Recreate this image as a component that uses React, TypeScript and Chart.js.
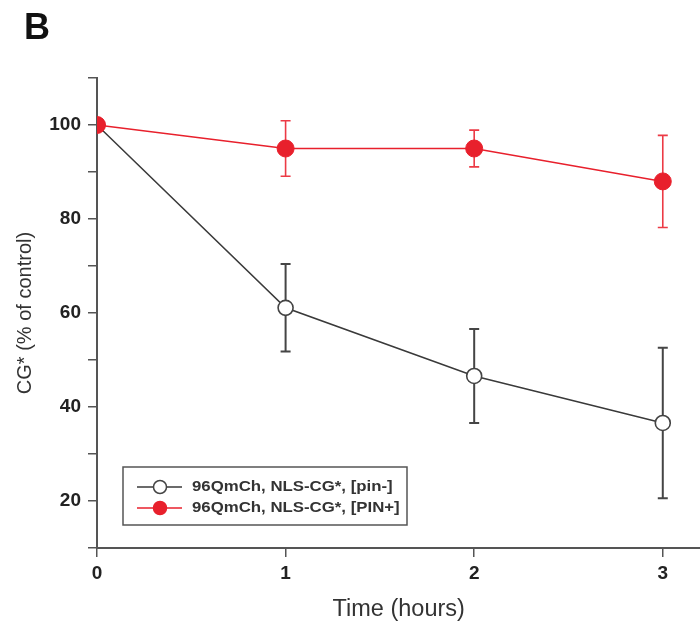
import React, { useEffect, useRef } from "react";
import { Chart, registerables } from "chart.js";

Chart.register(...registerables);

const panelLabel = "B";
const timeHours = [0, 1, 2, 3];
const pinMinusMean = [100, 61.1, 46.6, 36.6];
const pinMinusErr = [0, 9.3, 10.0, 16.0];
const pinPlusMean = [100, 95.0, 95.0, 88.0];
const pinPlusErr = [0, 5.9, 3.9, 9.8];
const seriesLabels = ["96QmCh, NLS-CG*, [pin-]", "96QmCh, NLS-CG*, [PIN+]"];
const xTitle = "Time (hours)";
const yTitle = "CG* (% of control)";
const xTickValues = [0, 1, 2, 3];
const yTickValues = [10, 20, 30, 40, 50, 60, 70, 80, 90, 100, 110];
const yTickLabels = [20, 40, 60, 80, 100];

const FONT = '"Liberation Sans", Arial, sans-serif';
const BLACK = "#3a3a3a";
const RED = "#e8202c";

const errorBarPlugin = {
  id: "errorBars",
  beforeDatasetsDraw(chart: any) {
    const ctx = chart.ctx;
    const xs = chart.scales.x;
    const ys = chart.scales.y;
    const sets = [
      { mean: pinPlusMean, err: pinPlusErr, color: "#ec3a45", w: 1.6 },
      { mean: pinMinusMean, err: pinMinusErr, color: "#454545", w: 2 },
    ];
    ctx.save();
    for (const s of sets) {
      ctx.strokeStyle = s.color;
      ctx.lineWidth = s.w;
      timeHours.forEach((t, i) => {
        if (!s.err[i]) return;
        const x = xs.getPixelForValue(t);
        const yTop = ys.getPixelForValue(s.mean[i] + s.err[i]);
        const yBot = ys.getPixelForValue(s.mean[i] - s.err[i]);
        ctx.beginPath();
        ctx.moveTo(x, yTop);
        ctx.lineTo(x, yBot);
        ctx.moveTo(x - 5, yTop);
        ctx.lineTo(x + 5, yTop);
        ctx.moveTo(x - 5, yBot);
        ctx.lineTo(x + 5, yBot);
        ctx.stroke();
      });
    }
    ctx.restore();
  },
};

const overlayPlugin = {
  id: "overlay",
  afterDraw(chart: any) {
    const ctx = chart.ctx;
    ctx.save();
    // panel label
    ctx.fillStyle = "#111";
    ctx.font = `bold 36px ${FONT}`;
    ctx.textAlign = "left";
    ctx.textBaseline = "alphabetic";
    ctx.fillText(panelLabel, 24, 39);

    // legend box
    const bx = 123, by = 467, bw = 284, bh = 58;
    ctx.fillStyle = "#fff";
    ctx.fillRect(bx, by, bw, bh);
    ctx.strokeStyle = "#555";
    ctx.lineWidth = 1.5;
    ctx.strokeRect(bx, by, bw, bh);

    const rows = [
      { label: seriesLabels[0], line: BLACK, fill: "#fff", stroke: "#444", y: 487 },
      { label: seriesLabels[1], line: RED, fill: RED, stroke: RED, y: 508 },
    ];
    for (const r of rows) {
      ctx.strokeStyle = r.line;
      ctx.lineWidth = 1.5;
      ctx.beginPath();
      ctx.moveTo(137, r.y);
      ctx.lineTo(182, r.y);
      ctx.stroke();
      ctx.beginPath();
      ctx.arc(160, r.y, 6.5, 0, Math.PI * 2);
      ctx.fillStyle = r.fill;
      ctx.fill();
      ctx.strokeStyle = r.stroke;
      ctx.lineWidth = 1.5;
      ctx.stroke();
      ctx.save();
      ctx.translate(192, r.y);
      ctx.scale(1.2, 1);
      ctx.fillStyle = "#333";
      ctx.font = `bold 14px ${FONT}`;
      ctx.textBaseline = "middle";
      ctx.textAlign = "left";
      ctx.fillText(r.label, 0, 0);
      ctx.restore();
    }
    ctx.restore();
  },
};

export default function App() {
  const ref = useRef<HTMLCanvasElement | null>(null);

  useEffect(() => {
    if (!ref.current) return;
    const chart = new Chart(ref.current, {
      type: "line",
      data: {
        datasets: [
          {
            label: seriesLabels[1],
            data: timeHours.map((t, i) => ({ x: t, y: pinPlusMean[i] })),
            borderColor: RED,
            backgroundColor: RED,
            borderWidth: 1.5,
            pointRadius: 8.5,
            pointBackgroundColor: RED,
            pointBorderColor: RED,
            pointBorderWidth: 1,
            tension: 0,
          },
          {
            label: seriesLabels[0],
            data: timeHours.map((t, i) => ({ x: t, y: pinMinusMean[i] })),
            borderColor: BLACK,
            backgroundColor: "#fff",
            borderWidth: 1.5,
            pointRadius: 7.5,
            pointBackgroundColor: "#fff",
            pointBorderColor: "#444",
            pointBorderWidth: 1.6,
            tension: 0,
          },
        ],
      },
      options: {
        animation: false,
        responsive: false,
        devicePixelRatio: 1,
        layout: { padding: { top: 78, right: 0, left: 0, bottom: 0 } },
        plugins: {
          legend: { display: false },
          tooltip: { enabled: false },
          title: { display: false },
        },
        scales: {
          x: {
            type: "linear",
            min: 0,
            max: 3.2,
            afterBuildTicks: (s: any) => {
              s.ticks = xTickValues.map((v) => ({ value: v }));
            },
            afterFit: (s: any) => {
              s.height = 77;
            },
            ticks: {
              font: { family: FONT, size: 19, weight: "bold" },
              color: "#222",
              padding: 5,
              maxRotation: 0,
              autoSkip: false,
              callback: (v: any) => String(v),
            },
            grid: {
              drawOnChartArea: false,
              drawTicks: true,
              tickLength: 9,
              color: "#555",
              lineWidth: 1.5,
            },
            border: { color: "#555", width: 2 },
            title: {
              display: true,
              text: xTitle,
              font: { family: FONT, size: 23.5 },
              color: "#333",
              padding: { top: 0, bottom: 1 },
            },
          },
          y: {
            type: "linear",
            min: 10,
            max: 110,
            afterBuildTicks: (s: any) => {
              s.ticks = yTickValues.map((v) => ({ value: v }));
            },
            afterFit: (s: any) => {
              s.width = 97;
              s.paddingTop = 0;
              s.paddingBottom = 0;
            },
            ticks: {
              font: { family: FONT, size: 19, weight: "bold" },
              color: "#222",
              padding: 7,
              autoSkip: false,
              callback: (v: any) => (yTickLabels.includes(v) ? String(v) : ""),
            },
            grid: {
              drawOnChartArea: false,
              drawTicks: true,
              tickLength: 9,
              color: "#555",
              lineWidth: 1.5,
            },
            border: { color: "#555", width: 2 },
            title: {
              display: true,
              text: yTitle,
              font: { family: FONT, size: 20 },
              color: "#333",
              padding: { top: 13, bottom: 0 },
            },
          },
        },
      },
      plugins: [errorBarPlugin, overlayPlugin],
    } as any);
    return () => chart.destroy();
  }, []);

  return (
    <div
      style={{
        position: "absolute",
        left: 0,
        top: 0,
        width: 700,
        height: 625,
        overflow: "hidden",
        background: "#fff",
      }}
    >
      <canvas ref={ref} width={710} height={625} style={{ display: "block" }} />
    </div>
  );
}
